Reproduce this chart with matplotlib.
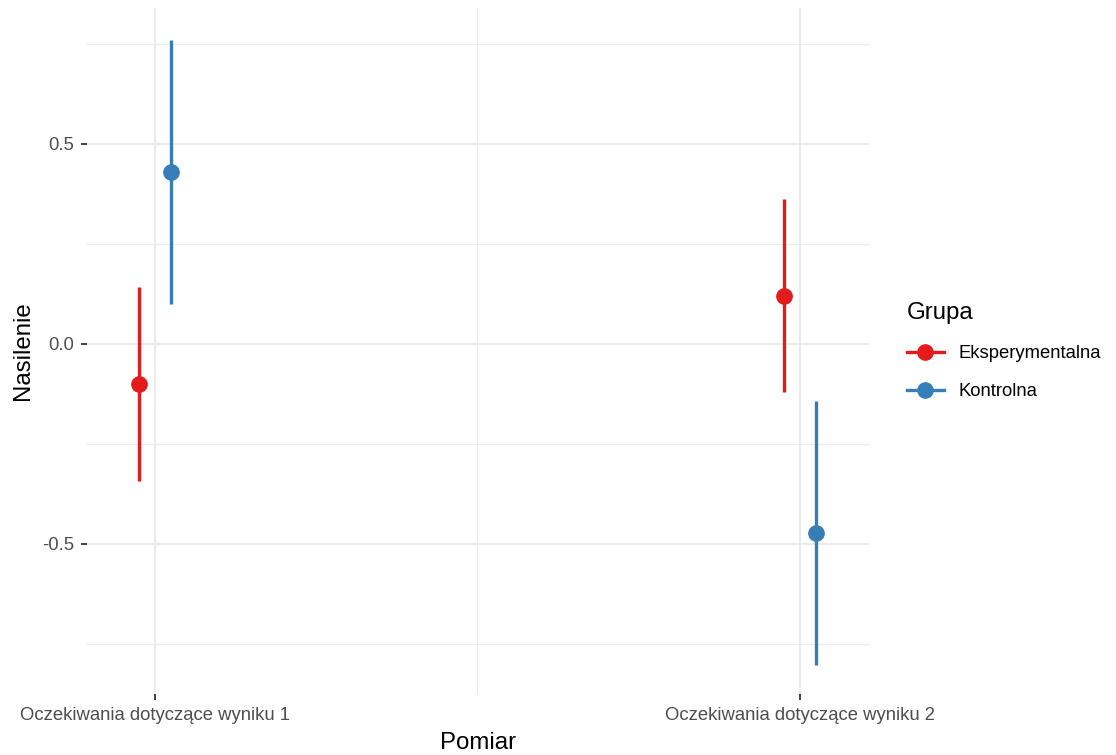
import numpy as np
import matplotlib.pyplot as plt
from matplotlib.lines import Line2D

plt.rcParams['font.family'] = ['Liberation Sans', 'DejaVu Sans']

#%%
""" group means with their intervals """
measures = ['Oczekiwania dotyczące wyniku 1', 'Oczekiwania dotyczące wyniku 2']
groups = ['Eksperymentalna', 'Kontrolna']
colors = ['#E41A1C', '#377EB8']

eksp_mean = [-0.10, 0.12]
eksp_lo = [-0.3425, -0.12]
eksp_hi = [0.1425, 0.3625]

kontr_mean = [0.43, -0.4725]
kontr_lo = [0.10, -0.8025]
kontr_hi = [0.76, -0.1425]

#%%
""" pointrange plot """
fig = plt.figure(figsize=(11.16, 7.55), dpi=100, facecolor='w')
ax = fig.add_axes([87 / 1116, 61 / 755, 782 / 1116, 686 / 755])

xpos = np.arange(1, len(measures) + 1)
dodge = 0.025
series = [(eksp_mean, eksp_lo, eksp_hi), (kontr_mean, kontr_lo, kontr_hi)]
for i, (m, lo, hi) in enumerate(series):
    x = xpos + (-dodge if i == 0 else dodge)
    ax.vlines(x, lo, hi, color=colors[i], lw=2.4, zorder=3)
    ax.plot(x, m, 'o', color=colors[i], ms=11, zorder=4)

ax.set_xlim(0.8946, 2.107)
ax.set_ylim(-0.875, 0.84)
ax.set_xticks(xpos)
ax.set_xticklabels(measures)
ax.set_yticks([-0.5, 0.0, 0.5])
ax.set_yticklabels(['-0.5', '0.0', '0.5'])
ax.set_xticks([1.5], minor=True)
ax.set_yticks([-0.75, -0.25, 0.25, 0.75], minor=True)

ax.grid(True, which='major', color='#EBEBEB', lw=1.5)
ax.grid(True, which='minor', color='#EBEBEB', lw=0.8)
ax.set_axisbelow(True)
for s in ax.spines.values():
    s.set_visible(False)
ax.tick_params(which='major', length=4.3, width=1.3, color='#333333',
               labelcolor='#4D4D4D', labelsize=13.3, pad=5)
ax.tick_params(which='minor', length=0)

ax.set_xlabel('Pomiar', fontsize=17.3, color='black')
ax.set_ylabel('Nasilenie', fontsize=17.3, color='black')
ax.xaxis.set_label_coords(0.5, -0.072)
ax.xaxis.label.set_va('center')
ax.yaxis.set_label_coords(-0.0818, 0.5)
ax.yaxis.label.set_va('center')

handles = [Line2D([], [], color=c, lw=2.4, marker='o', ms=11) for c in colors]
fig.legend(handles, groups, loc='upper left', bbox_to_anchor=(907 / 1116, 1 - 302 / 755),
           frameon=False, title='Grupa', alignment='left', fontsize=13.3,
           title_fontsize=17.3, handlelength=2.0, handletextpad=0.8,
           labelspacing=1.14, borderpad=0, borderaxespad=0)

plt.savefig('out.png', dpi=100, facecolor='w')
